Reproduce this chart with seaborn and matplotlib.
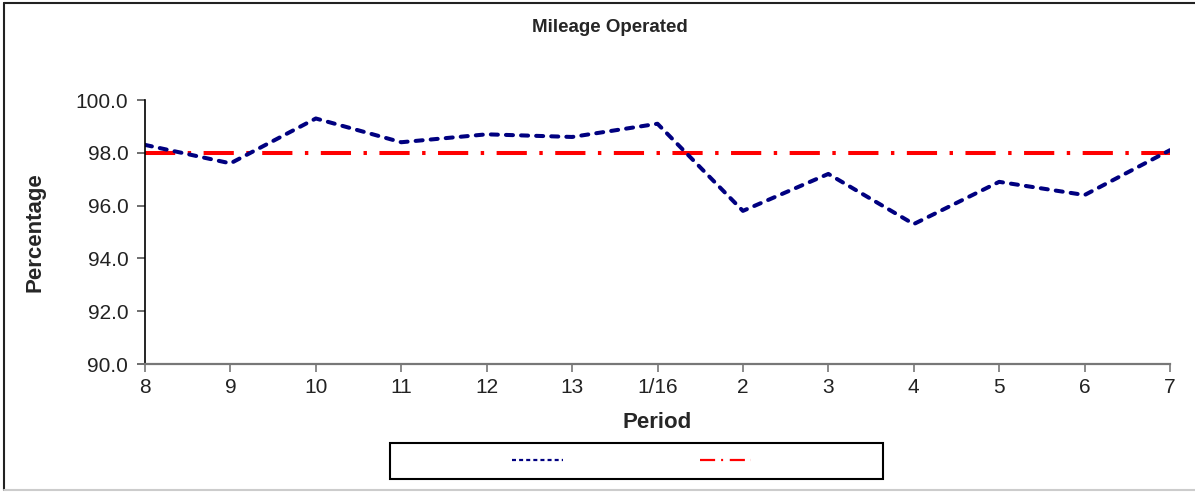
import matplotlib
matplotlib.use("Agg")
import matplotlib.pyplot as plt
import seaborn as sns
import pandas as pd
from matplotlib.lines import Line2D
from matplotlib.patches import Rectangle

periods = ["8", "9", "10", "11", "12", "13", "1/16", "2", "3", "4", "5", "6", "7"]
mileage = [98.3, 97.6, 99.3, 98.4, 98.7, 98.6, 99.1, 95.8, 97.2, 95.3, 96.9, 96.4, 98.1]
target = [98.0] * len(periods)
y_ticks = [90.0, 92.0, 94.0, 96.0, 98.0, 100.0]

sns.set_theme(style="white")
plt.rcParams["font.family"] = ["Liberation Sans", "DejaVu Sans"]

W, H = 1195, 493
df = pd.DataFrame({"pos": list(range(len(periods))), "Period": periods,
                   "mileage": mileage, "target": target})

fig = plt.figure(figsize=(W / 100, H / 100), dpi=100)
ax = fig.add_axes([145 / W, 1 - 364 / H, (1170 - 145) / W, (364 - 100) / H])

LW = 2.9
sns.lineplot(data=df, x="pos", y="mileage", ax=ax, color="#000080", lw=LW,
             legend=False)
ax.lines[-1].set_dashes((1.75, 2.0))
ax.lines[-1].set_dash_capstyle("round")
sns.lineplot(data=df, x="pos", y="target", ax=ax, color="#FF0000", lw=LW,
             legend=False)
ax.lines[-1].set_dashes((7.5, 3.1, 0.85, 3.1))
ax.lines[-1].set_dash_capstyle("butt")
ax.lines[-1].set_zorder(1.9)

ax.set_xlim(0, len(periods) - 1)
ax.set_ylim(90, 100)
ax.set_xticks(range(len(periods)))
ax.set_xticklabels(periods)
ax.set_yticks(y_ticks)
ax.set_yticklabels([f"{v:.1f}" for v in y_ticks])
ax.tick_params(axis="both", labelsize=15, colors="#222222", length=6, width=1.2,
               direction="out", bottom=True, left=True)
ax.tick_params(axis="x", color="#777777", pad=4)
ax.tick_params(axis="y", color="#555555", pad=6)

for s in ["top", "right"]:
    ax.spines[s].set_visible(False)
ax.spines["left"].set_color("black")
ax.spines["left"].set_linewidth(1.2)
ax.spines["bottom"].set_color("#777777")
ax.spines["bottom"].set_linewidth(1.6)
ax.patch.set_alpha(0)

ax.set_xlabel("Period", fontsize=16, fontweight="bold", labelpad=11)
ax.set_ylabel("Percentage", fontsize=16, fontweight="bold", labelpad=22)
fig.text(610 / W, 1 - 27 / H, "Mileage Operated", ha="center", va="center",
         fontsize=13.5, fontweight="bold")

# legend frame
fig.patches.append(Rectangle((390 / W, 1 - 479 / H), 493 / W, 36 / H,
                             transform=fig.transFigure, fill=False,
                             edgecolor="black", lw=1.5))
h1 = Line2D([], [], color="#000080", lw=1.6, dashes=(1.8, 1.4))
h2 = Line2D([], [], color="#FF0000", lw=1.6, dashes=(6.8, 2.7, 0.9, 3.0))
fs = 10
px = fs * 100 / 72
leg = fig.legend([h1, h2], ["", ""], ncol=2, loc="center left",
                 bbox_to_anchor=(512 / W, 1 - 461 / H), frameon=False,
                 fontsize=fs, handlelength=51 / px, handletextpad=0,
                 columnspacing=137 / px, borderpad=0, borderaxespad=0)

# outer border
fig.add_artist(Line2D([4 / W, 4 / W], [3 / H, 1 - 3 / H], transform=fig.transFigure,
                      color="#222222", lw=1.5))
fig.add_artist(Line2D([4 / W, 1], [1 - 3 / H, 1 - 3 / H], transform=fig.transFigure,
                      color="#222222", lw=1.5))
fig.add_artist(Line2D([4 / W, 1], [3 / H, 3 / H], transform=fig.transFigure,
                      color="#cccccc", lw=1.5))

fig.savefig("out.png", dpi=100)
